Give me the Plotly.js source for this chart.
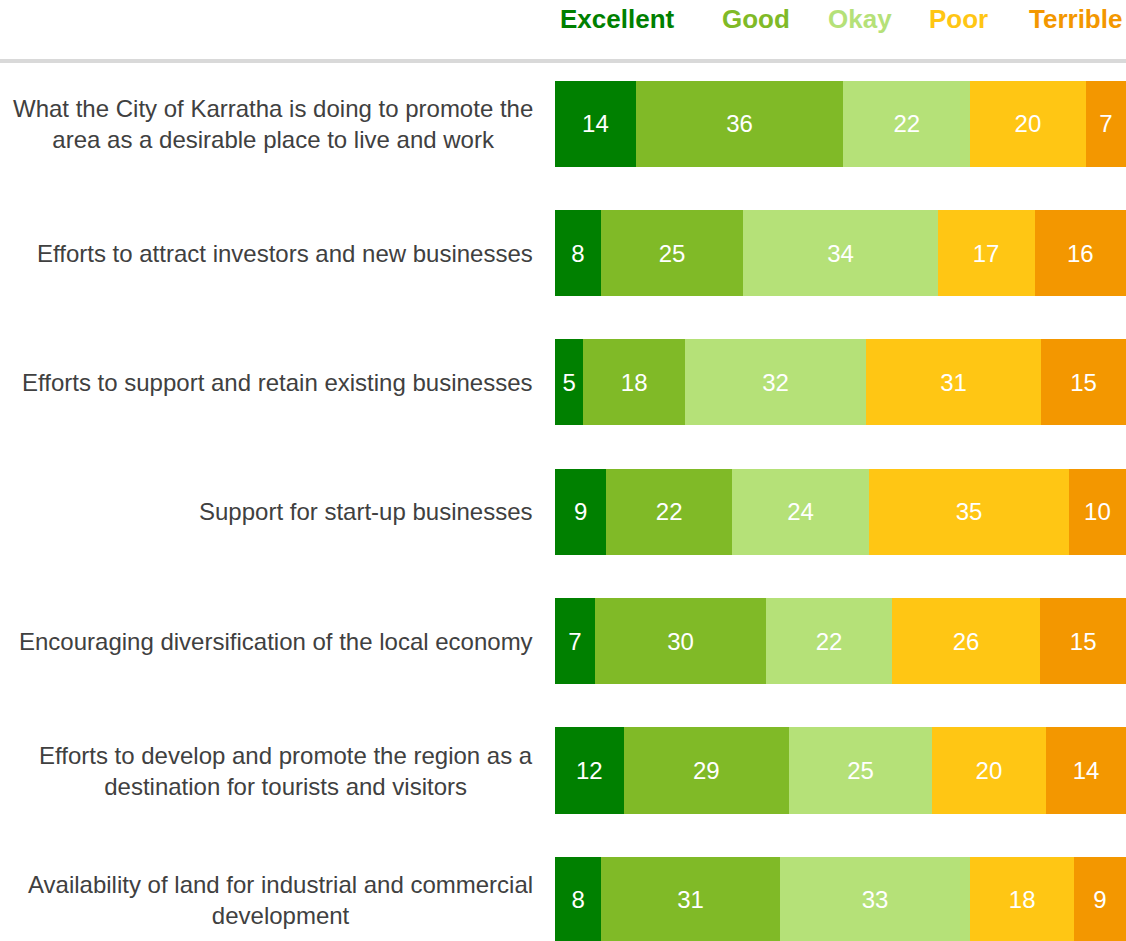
<!DOCTYPE html>
<html>
<head>
<meta charset="utf-8">
<script src="https://cdn.plot.ly/plotly-3.0.1.min.js"></script>
<style>html,body{margin:0;padding:0;background:#fff;}#chart{width:1126px;height:941px;}</style>
</head>
<body>
<div id="chart"></div>
<script>
const categories = [
  "What the City of Karratha is doing to promote the<br>area as a desirable place to live and work",
  "Efforts to attract investors and new businesses",
  "Efforts to support and retain existing businesses",
  "Support for start-up businesses",
  "Encouraging diversification of the local economy",
  "Efforts to develop and promote the region as a<br>destination for tourists and visitors",
  "Availability of land for industrial and commercial<br>development"
];
const seriesNames = ["Excellent", "Good", "Okay", "Poor", "Terrible"];
const excellent = [14, 8, 5, 9, 7, 12, 8];
const good      = [36, 25, 18, 22, 30, 29, 31];
const okay      = [22, 34, 32, 24, 22, 25, 33];
const poor      = [20, 17, 31, 35, 26, 20, 18];
const terrible  = [7, 16, 15, 10, 15, 14, 9];
const seriesColors = ["#008000", "#80BA27", "#B5E178", "#FFC614", "#F39700"];

const seriesValues = [excellent, good, okay, poor, terrible];
const idx = categories.map((c, i) => i);
const FONT = "Liberation Sans, Arial, sans-serif";

const traces = seriesValues.map((vals, s) => ({
  type: "bar",
  orientation: "h",
  name: seriesNames[s],
  y: idx,
  x: vals,
  text: vals.map(String),
  texttemplate: "%{text}",
  textposition: "inside",
  insidetextanchor: "middle",
  constraintext: "none",
  textangle: 0,
  textfont: {family: FONT, size: 24, color: "#ffffff"},
  marker: {color: seriesColors[s], line: {width: 0}},
  hoverinfo: "x+y+name",
  showlegend: false
}));

const legendX = [0.110, 0.352, 0.534, 0.706, 0.912];
const annotations = [];
seriesNames.forEach((n, s) => {
  annotations.push({
    xref: "paper", yref: "paper", x: legendX[s], y: 1.0454,
    xanchor: "center", yanchor: "middle", showarrow: false,
    text: "<b>" + n + "</b>",
    font: {family: FONT, size: 26, color: seriesColors[s]}
  });
});
categories.forEach((c, i) => {
  annotations.push({
    xref: "paper", yref: "y", x: 0, y: i,
    xanchor: "right", yanchor: "middle", xshift: -20, align: "center",
    showarrow: false, text: c,
    font: {family: FONT, size: 24, color: "#404040"}
  });
});

const layout = {
  width: 1126, height: 941,
  margin: {l: 555, r: 0, t: 59, b: 0, pad: 0},
  barmode: "stack",
  barnorm: "percent",
  bargap: 0.335,
  paper_bgcolor: "#ffffff",
  plot_bgcolor: "#ffffff",
  font: {family: FONT, color: "#404040"},
  xaxis: {range: [0, 100], showticklabels: false, showgrid: false, zeroline: false, showline: false, fixedrange: true},
  yaxis: {range: [6.318, -0.5], showticklabels: false, showgrid: false, zeroline: false, showline: false, fixedrange: true},
  shapes: [{
    type: "line", xref: "paper", yref: "paper",
    x0: -0.98, x1: 1, y0: 0.9977, y1: 0.9977,
    line: {color: "#D9D9D9", width: 4}
  }],
  annotations: annotations
};

Plotly.newPlot("chart", traces, layout, {displayModeBar: false, staticPlot: true});
</script>
</body>
</html>
